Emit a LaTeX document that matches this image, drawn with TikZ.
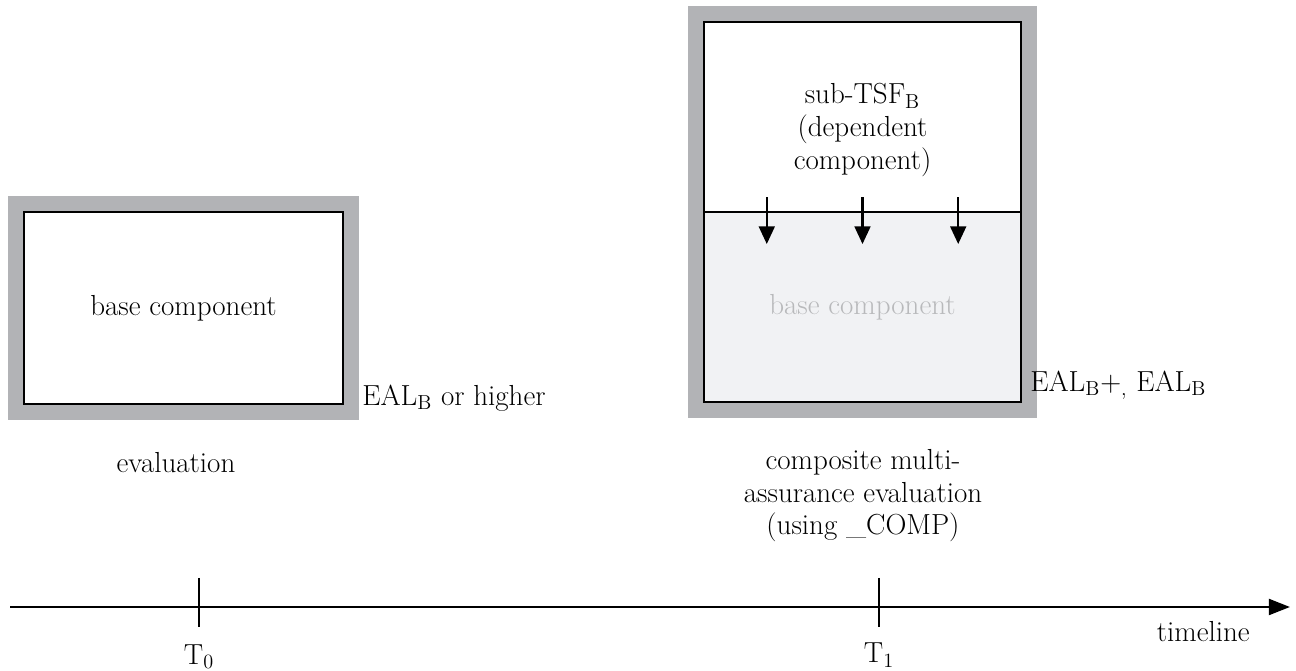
\documentclass[tikz,border=0pt]{standalone}
\usetikzlibrary{arrows.meta,calc,backgrounds}
\definecolor{framegray}{RGB}{178,179,182}
\definecolor{lightfill}{RGB}{241,242,244}
\definecolor{textgray}{RGB}{184,185,187}
\tikzset{
  box/.style={draw=black, line width=1.2pt, minimum width=6.38cm, minimum height=3.84cm, inner sep=0pt, fill=white},
  frame/.style={draw=framegray, line width=0.6cm},
  lbl/.style={font=\fontsize{16.5}{18.5}\selectfont, align=center, inner sep=0pt},
  flow/.style={line width=1.2pt, -{Triangle[width=9pt,length=10pt]}},
  tickmark/.style={line width=0.8pt}
}
\begin{document}
\begin{tikzpicture}[x=0.02cm, y=-0.02cm]
            \useasboundingbox (0,0) rectangle (1296,671);

            \node[box] (base) at (183.5,308) {\fontsize{16.5}{18.5}\selectfont base component};
            \node[box, minimum width=6.34cm, minimum height=3.8cm] (dep) at (862.5,117) {};
            \node[box, minimum width=6.34cm, minimum height=3.8cm, fill=lightfill, text=textgray] (basec) at (862.5,307) {\fontsize{16.5}{18.5}\selectfont base component};

            \begin{scope}[on background layer]
            \draw[frame] (base.north west) rectangle (base.south east);
            \draw[frame] (dep.north west) rectangle (basec.south east);
            \end{scope}

            \node[lbl] (sub) at (862.5,130) {sub-TSF\textsubscript{B}\\(dependent\\component)};
            \foreach \p in {0.2,0.5,0.8}
              \draw[flow] ($(dep.south west)!\p!(dep.south east)+(0,-16)$) -- ++(0,47);

            \node[lbl, anchor=west] (ealb) at (362,398) {EAL\textsubscript{B} or higher};
            \node[lbl, anchor=west] (ealc) at (1030,385) {EAL\textsubscript{B}+\textsubscript{,} EAL\textsubscript{B}};
            \node[lbl] (ev) at (176,463) {evaluation};
            \node[lbl] (cev) at (863,496) {composite multi-\\assurance evaluation\\(using \_COMP)};

            \coordinate (tstart) at (10,607);
            \coordinate (tend) at (1290,607);
            \coordinate (t0) at (199,607);
            \coordinate (t1) at (879,607);
            \draw[line width=1.5pt, -{Triangle[width=9pt,length=12pt]}] (tstart) -- (tend);
            \draw[tickmark] ($(t0)+(0,-29)$) -- ($(t0)+(0,20)$);
            \draw[tickmark] ($(t1)+(0,-29)$) -- ($(t1)+(0,20)$);

            \node[lbl] (lt0) at (199,657) {T\textsubscript{0}};
            \node[lbl] (lt1) at (879,655) {T\textsubscript{1}};
            \node[lbl, anchor=east] (tl) at (1250,632) {timeline};
        \end{tikzpicture}
\end{document}
